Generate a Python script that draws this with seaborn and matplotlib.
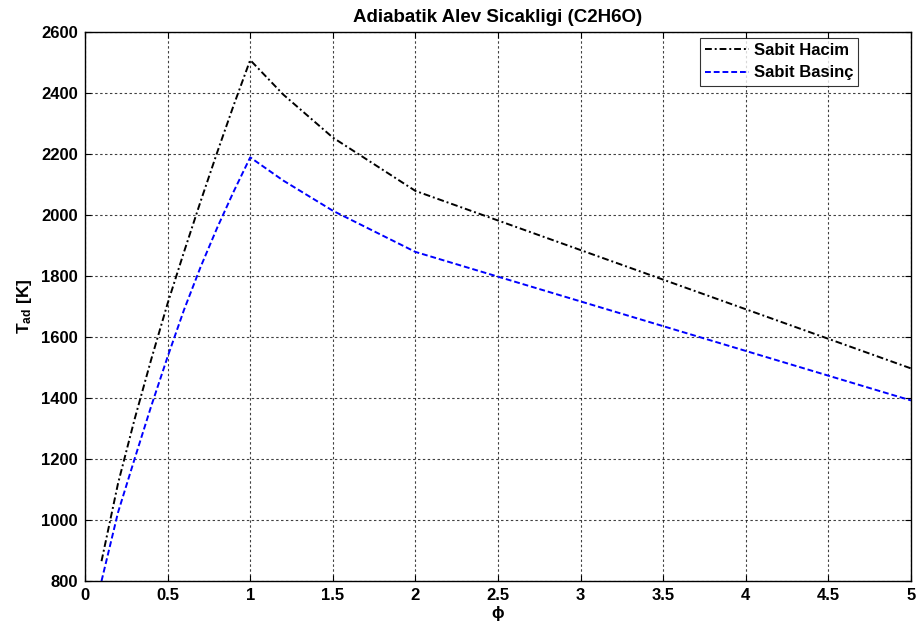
import matplotlib
matplotlib.use("Agg")
import matplotlib.pyplot as plt
import seaborn as sns
import pandas as pd

# Equivalence ratio and adiabatic flame temperature of ethanol (C2H6O)
phi = [0.1, 0.2, 0.3, 0.4, 0.5, 0.6, 0.7, 0.8, 0.9, 1.0, 1.2, 1.5, 2.0, 5.0]
t_sabit_hacim = [865, 1120, 1330, 1525, 1710, 1880, 2045, 2205, 2360, 2508, 2395, 2254, 2079, 1497]
t_sabit_basinc = [800, 1025, 1200, 1372, 1535, 1690, 1830, 1958, 2077, 2189, 2113, 2014, 1879, 1392]

series_names = ["Sabit Hacim", "Sabit Basinç"]
series_colors = ["black", "#0000ff"]
series_dashes = [(3.5, 1.5, 1, 1.5), (3, 1.5)]

x_ticks = [0, 0.5, 1, 1.5, 2, 2.5, 3, 3.5, 4, 4.5, 5]
x_tick_labels = ["0", "0.5", "1", "1.5", "2", "2.5", "3", "3.5", "4", "4.5", "5"]
y_ticks = [800, 1000, 1200, 1400, 1600, 1800, 2000, 2200, 2400, 2600]

title = "Adiabatik Alev Sicakligi (C2H6O)"

sns.set_theme(style="white")
plt.rcParams["font.family"] = ["Liberation Sans", "DejaVu Sans"]
plt.rcParams["font.weight"] = "bold"
plt.rcParams["text.color"] = "black"
plt.rcParams["axes.labelcolor"] = "black"
plt.rcParams["mathtext.fontset"] = "custom"
plt.rcParams["mathtext.rm"] = "Liberation Sans:bold"
plt.rcParams["mathtext.it"] = "Liberation Sans:bold"
plt.rcParams["mathtext.bf"] = "Liberation Sans:bold"

df = pd.DataFrame({
    "phi": phi * 2,
    "T": t_sabit_hacim + t_sabit_basinc,
    "seri": [series_names[0]] * len(phi) + [series_names[1]] * len(phi),
})

W, H = 917, 624
fig = plt.figure(figsize=(W / 100, H / 100), dpi=100)
fig.patch.set_facecolor("white")
ax = fig.add_axes([85 / W, 1 - 581 / H, (911 - 85) / W, (581 - 32) / H])
ax.set_facecolor("white")

sns.lineplot(
    data=df, x="phi", y="T", hue="seri", style="seri",
    hue_order=series_names, style_order=series_names,
    palette=dict(zip(series_names, series_colors)),
    dashes=dict(zip(series_names, series_dashes)),
    linewidth=1.4, ax=ax, legend=True,
)

ax.set_xlim(0, 5)
ax.set_ylim(800, 2600)
ax.set_xticks(x_ticks)
ax.set_xticklabels(x_tick_labels)
ax.set_yticks(y_ticks)
ax.set_yticklabels([str(v) for v in y_ticks])

ax.grid(True, color="black", linestyle=(0, (2.2, 2.2)), linewidth=0.8, alpha=0.75)
for side in ["left", "right", "top", "bottom"]:
    ax.spines[side].set_visible(True)
    ax.spines[side].set_color("black")
    ax.spines[side].set_linewidth(1.0)

ax.tick_params(axis="both", which="both", direction="in", length=4, width=0.8,
               top=True, right=True, bottom=True, left=True,
               labelsize=12, colors="black", labelcolor="black", pad=5)
for lab in ax.get_xticklabels() + ax.get_yticklabels():
    lab.set_fontweight("bold")

ax.set_title(title, fontsize=13.5, fontweight="bold", pad=7, color="black")
ax.set_xlabel("ϕ", fontsize=12, fontweight="bold", labelpad=2, color="black")
ax.set_ylabel(r"T$_{\mathrm{ad}}$ [K]", fontsize=12.5, fontweight="bold", labelpad=5, color="black")

leg = ax.legend(
    loc="upper right", bbox_to_anchor=(858 / W, 1 - 38 / H),
    bbox_transform=fig.transFigure, frameon=True, fancybox=False,
    fontsize=12, handlelength=2.6, borderpad=0.3, labelspacing=0.45,
    handletextpad=0.3, borderaxespad=0,
)
leg.get_frame().set_edgecolor("black")
leg.get_frame().set_linewidth(0.8)
for t in leg.get_texts():
    t.set_fontweight("bold")
    t.set_color("black")

fig.savefig("out.png", dpi=100, facecolor="white")
